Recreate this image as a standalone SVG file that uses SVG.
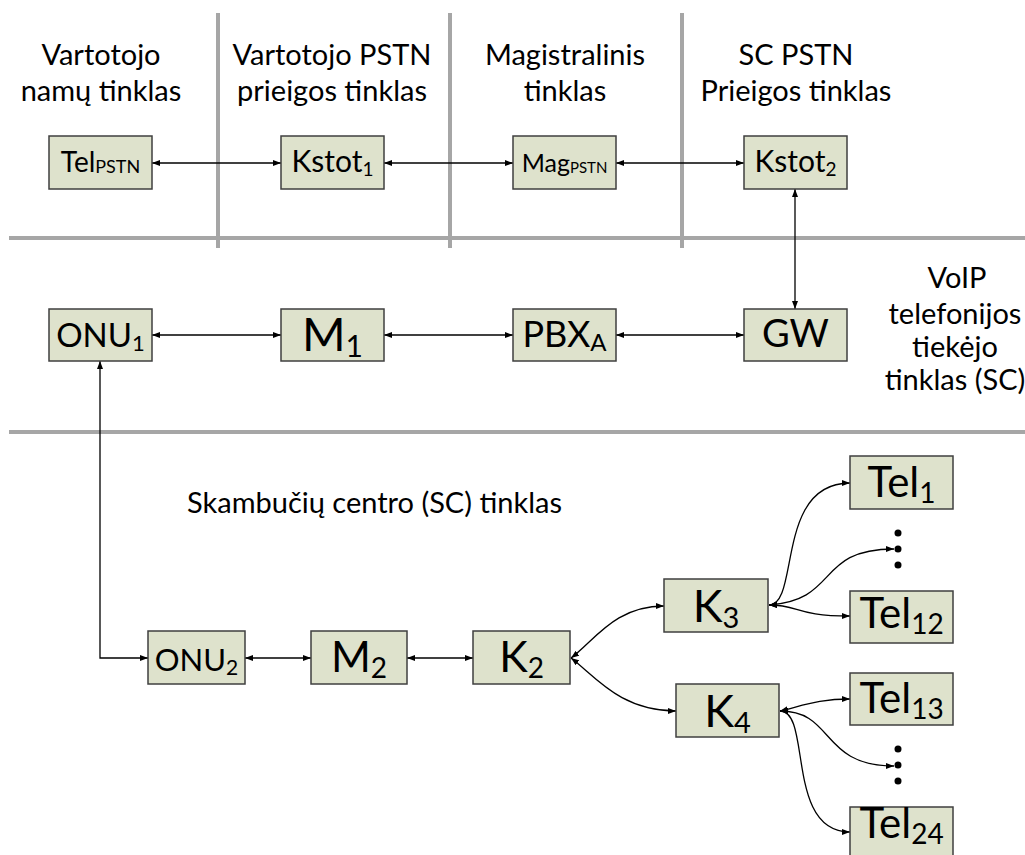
<svg xmlns="http://www.w3.org/2000/svg" width="1025" height="855" viewBox="0 0 1025 855">
  <style>
    text { font-family: Lato, "Liberation Sans", sans-serif; fill: #000; }
    .hdr { font-size: 29px; text-anchor: middle; }
    .lbl { text-anchor: middle; }
    .box { fill: #DEE2CC; stroke: #3F3F3F; stroke-width: 1.5; }
    .sep { stroke: #A6A6A6; stroke-width: 4; fill: none; }
    .con { stroke: #000; stroke-width: 1.3; fill: none; marker-start: url(#ah); marker-end: url(#ah); }
    .dot { fill: #000; }
  </style>
  <defs>
    <marker id="ah" viewBox="0 0 8 6" refX="8" refY="3" markerWidth="8" markerHeight="6" markerUnits="userSpaceOnUse" orient="auto-start-reverse">
      <path d="M0,0 L8,3 L0,6 z" fill="#000"/>
    </marker>
  </defs>

  <!-- zone separators -->
  <g id="separators">
    <line class="sep" x1="218" y1="13" x2="218" y2="248"/>
    <line class="sep" x1="450" y1="13" x2="450" y2="248"/>
    <line class="sep" x1="682" y1="13" x2="682" y2="248"/>
    <line class="sep" x1="9" y1="238" x2="1025" y2="238"/>
    <line class="sep" x1="9" y1="432" x2="1025" y2="432"/>
  </g>

  <!-- zone titles -->
  <g id="titles">
    <text class="hdr" x="101" y="65">Vartotojo</text>
    <text class="hdr" x="101" y="101">namų tinklas</text>
    <text class="hdr" x="332" y="65">Vartotojo PSTN</text>
    <text class="hdr" x="332" y="101">prieigos tinklas</text>
    <text class="hdr" x="565" y="65">Magistralinis</text>
    <text class="hdr" x="565" y="101">tinklas</text>
    <text class="hdr" x="796" y="65">SC PSTN</text>
    <text class="hdr" x="796" y="101">Prieigos tinklas</text>
    <text class="hdr" x="957" y="288">VoIP</text>
    <text class="hdr" x="955" y="324">telefonijos</text>
    <text class="hdr" x="955" y="357">tiekėjo</text>
    <text class="hdr" x="955" y="390">tinklas (SC)</text>
    <text class="hdr" x="187" y="513" style="text-anchor:start">Skambučių centro (SC) tinklas</text>
  </g>

  <!-- connectors -->
  <g id="connectors">
    <line class="con" x1="152" y1="163" x2="281" y2="163"/>
    <line class="con" x1="384" y1="163" x2="513" y2="163"/>
    <line class="con" x1="616" y1="163" x2="744" y2="163"/>
    <line class="con" x1="795" y1="189" x2="795" y2="309"/>
    <line class="con" x1="152" y1="335" x2="281" y2="335"/>
    <line class="con" x1="384" y1="335" x2="513" y2="335"/>
    <line class="con" x1="616" y1="335" x2="744" y2="335"/>
    <path class="con" d="M100,361 L100,658 L148,658"/>
    <line class="con" x1="245" y1="658" x2="311" y2="658"/>
    <line class="con" x1="407" y1="658" x2="473" y2="658"/>
    <path class="con" d="M571,658 C595,640 615,606 664,606"/>
    <path class="con" d="M571,658 C595,676 620,711 676,711"/>
    <path class="con" d="M769,605 C800,605 775,483 850,483"/>
    <path class="con" d="M769,605 C840,600 815,549 894,549"/>
    <path class="con" d="M769,605 C800,605 795,616 850,616"/>
    <path class="con" d="M780,711 C805,705 820,699 850,699"/>
    <path class="con" d="M780,711 C835,711 820,766 894,766"/>
    <path class="con" d="M780,711 C812,711 785,832 850,832"/>
  </g>

  <!-- PSTN row -->
  <g id="tel-pstn">
    <rect class="box" x="49" y="136" width="103" height="53"/>
    <text class="lbl" x="100.5" y="172" font-size="28">Tel<tspan font-size="18" dy="1">PSTN</tspan></text>
  </g>
  <g id="kstot1">
    <rect class="box" x="281" y="136" width="103" height="53"/>
    <text class="lbl" x="332.5" y="172" font-size="30">Kstot<tspan font-size="19" dy="4">1</tspan></text>
  </g>
  <g id="mag-pstn">
    <rect class="box" x="513" y="136" width="103" height="53"/>
    <text class="lbl" x="564.5" y="172" font-size="25">Mag<tspan font-size="15" dy="1">PSTN</tspan></text>
  </g>
  <g id="kstot2">
    <rect class="box" x="744" y="136" width="103" height="53"/>
    <text class="lbl" x="795.5" y="172" font-size="30">Kstot<tspan font-size="19" dy="4">2</tspan></text>
  </g>

  <!-- VoIP provider row -->
  <g id="onu1">
    <rect class="box" x="49" y="309" width="103" height="52"/>
    <text class="lbl" x="100.5" y="347" font-size="33">ONU<tspan font-size="22" dy="4">1</tspan></text>
  </g>
  <g id="m1">
    <rect class="box" x="281" y="309" width="103" height="52"/>
    <text class="lbl" x="332.5" y="351" font-size="47">M<tspan font-size="30" dy="6">1</tspan></text>
  </g>
  <g id="pbx-a">
    <rect class="box" x="513" y="309" width="103" height="52"/>
    <text class="lbl" x="564.5" y="347" font-size="36">PBX<tspan font-size="24" dy="4">A</tspan></text>
  </g>
  <g id="gw">
    <rect class="box" x="744" y="309" width="103" height="52"/>
    <text class="lbl" x="795.5" y="347" font-size="38">GW</text>
  </g>

  <!-- call centre network -->
  <g id="onu2">
    <rect class="box" x="148" y="631" width="97" height="53"/>
    <text class="lbl" x="196.5" y="671" font-size="31">ONU<tspan font-size="21" dy="4">2</tspan></text>
  </g>
  <g id="m2">
    <rect class="box" x="311" y="631" width="96" height="53"/>
    <text class="lbl" x="359" y="672" font-size="43">M<tspan font-size="28" dy="6">2</tspan></text>
  </g>
  <g id="k2">
    <rect class="box" x="473" y="631" width="97" height="53"/>
    <text class="lbl" x="521.5" y="672" font-size="43">K<tspan font-size="28" dy="6">2</tspan></text>
  </g>
  <g id="k3">
    <rect class="box" x="664" y="579" width="104" height="53"/>
    <text class="lbl" x="716" y="622" font-size="45">K<tspan font-size="29" dy="6">3</tspan></text>
  </g>
  <g id="k4">
    <rect class="box" x="676" y="684" width="103" height="53"/>
    <text class="lbl" x="727.5" y="727" font-size="45">K<tspan font-size="29" dy="6">4</tspan></text>
  </g>
  <g id="tel1">
    <rect class="box" x="850" y="456" width="103" height="53"/>
    <text class="lbl" x="901.5" y="497" font-size="42">Tel<tspan font-size="28" dy="6">1</tspan></text>
  </g>
  <g id="dots-a">
    <circle class="dot" cx="898" cy="533" r="3.5"/>
    <circle class="dot" cx="898" cy="549" r="3.5"/>
    <circle class="dot" cx="898" cy="565" r="3.5"/>
  </g>
  <g id="tel12">
    <rect class="box" x="850" y="591" width="103" height="52"/>
    <text class="lbl" x="901.5" y="628" font-size="42">Tel<tspan font-size="28" dy="6">12</tspan></text>
  </g>
  <g id="tel13">
    <rect class="box" x="850" y="673" width="103" height="52"/>
    <text class="lbl" x="901.5" y="713" font-size="42">Tel<tspan font-size="28" dy="6">13</tspan></text>
  </g>
  <g id="dots-b">
    <circle class="dot" cx="898" cy="749" r="3.5"/>
    <circle class="dot" cx="898" cy="765" r="3.5"/>
    <circle class="dot" cx="898" cy="781" r="3.5"/>
  </g>
  <g id="tel24">
    <rect class="box" x="850" y="807" width="103" height="53"/>
    <text class="lbl" x="901.5" y="838" font-size="42">Tel<tspan font-size="28" dy="6">24</tspan></text>
  </g>
</svg>
